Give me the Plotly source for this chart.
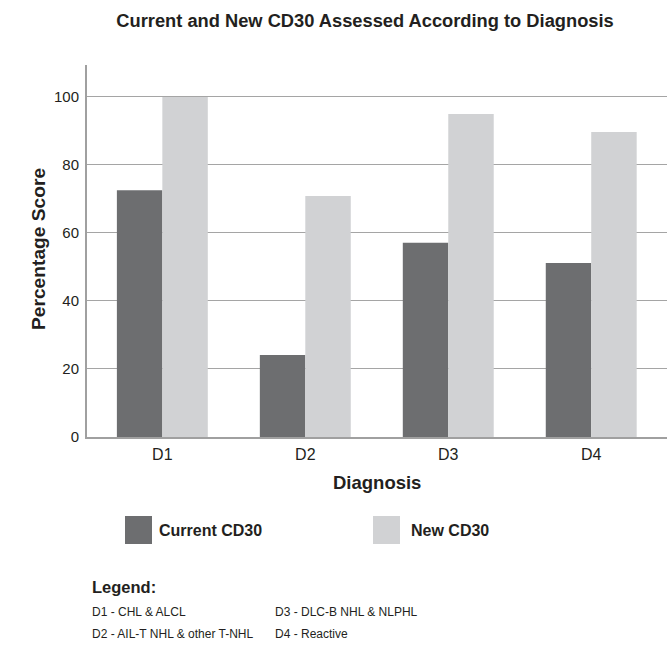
import plotly.graph_objects as go

# Diagnosis groups and CD30 percentage scores
categories = ["D1", "D2", "D3", "D4"]
current_cd30 = [72.6, 24.1, 57.1, 51.2]
new_cd30 = [100.0, 70.9, 95.0, 89.7]
y_ticks = [0, 20, 40, 60, 80, 100]
series_names = ["Current CD30", "New CD30"]
key_left = ["D1 - CHL & ALCL", "D2 - AIL-T NHL & other T-NHL"]
key_right = ["D3 - DLC-B NHL & NLPHL", "D4 - Reactive"]

DARK = "#6d6e70"
LIGHT = "#d1d2d4"
TEXT = "#231f20"
FONT = "Liberation Sans Narrow, Arial Narrow, Liberation Sans, Arial, sans-serif"

W, H = 667, 646
L, R, T, B = 87, 0, 65, 209
PW, PH = W - L - R, H - T - B


def px(x):
    return (x - L) / PW


def py(y):
    return (H - B - y) / PH


def label(text, x, y, size, xanchor="left", angle=0):
    return dict(text=text, x=px(x), y=py(y), xref="paper", yref="paper",
                xanchor=xanchor, yanchor="middle", showarrow=False, textangle=angle,
                font=dict(size=size, color=TEXT, family=FONT))


fig = go.Figure()
fig.add_trace(go.Bar(x=categories, y=current_cd30, name=series_names[0],
                     marker=dict(color=DARK, line=dict(width=0))))
fig.add_trace(go.Bar(x=categories, y=new_cd30, name=series_names[1],
                     marker=dict(color=LIGHT, line=dict(width=0))))

annotations = [
    label("<b>Diagnosis</b>", 377, 483, 18.5, xanchor="center"),
    label("<b>Percentage Score</b>", 38, 249, 19.2, xanchor="center", angle=-90),
    label("<b>" + series_names[0] + "</b>", 157, 530, 16),
    label("<b>" + series_names[1] + "</b>", 409, 530, 16),
    label("<b>Legend:</b>", 90, 587, 16.5),
]
for i, (a, b) in enumerate(zip(key_left, key_right)):
    annotations.append(label(a, 90, 612 + 22 * i, 12))
    annotations.append(label(b, 273, 612 + 22 * i, 12))

shapes = [
    dict(type="rect", xref="paper", yref="paper", x0=px(125), x1=px(152), y0=py(544), y1=py(516),
         fillcolor=DARK, line=dict(width=0)),
    dict(type="rect", xref="paper", yref="paper", x0=px(373), x1=px(400), y0=py(544), y1=py(516),
         fillcolor=LIGHT, line=dict(width=0)),
]

fig.update_layout(
    width=W, height=H,
    margin=dict(l=L, r=R, t=T, b=B),
    paper_bgcolor="white", plot_bgcolor="white",
    barmode="group", bargap=0.364, bargroupgap=0,
    showlegend=False,
    font=dict(family=FONT, color=TEXT),
    title=dict(text="<b>Current and New CD30 Assessed According to Diagnosis</b>",
               x=365 / W, xref="container", xanchor="center",
               y=1 - 21 / H, yref="container", yanchor="middle",
               font=dict(size=18.3, color=TEXT, family=FONT)),
    xaxis=dict(range=[-0.527, 3.53], showline=True, linecolor="#a0a0a0", linewidth=2,
               showgrid=False, ticks="", tickfont=dict(size=16, color=TEXT, family=FONT),
               ticklabelstandoff=2),
    yaxis=dict(range=[0, 109.4], tickvals=y_ticks, showline=True, linecolor="#a0a0a0",
               linewidth=2, showgrid=True, gridcolor="#a5a5a5", gridwidth=1.2,
               zeroline=False, ticks="", tickfont=dict(size=15, color=TEXT, family=FONT),
               ticklabelstandoff=3),
    annotations=annotations,
    shapes=shapes,
)

fig.write_html("out.html")
